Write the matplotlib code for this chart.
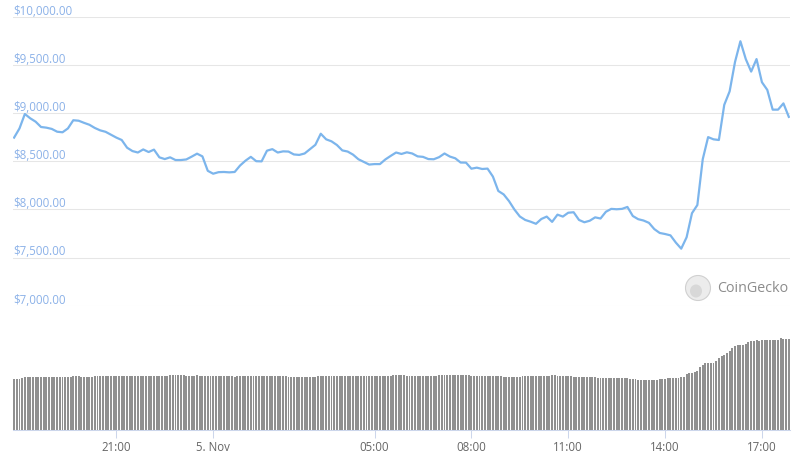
import matplotlib
matplotlib.use('Agg')
import matplotlib.pyplot as plt
from matplotlib.patches import Ellipse
from matplotlib.transforms import blended_transform_factory, offset_copy
import pandas as pd

plt.rcParams['font.family'] = ['Open Sans', 'DejaVu Sans']

# precio cada 10 minutos, desde 4 nov 17:50
price = [
    8745, 8840, 8990, 8945, 8910, 8855, 8848, 8835, 8806, 8800,
    8840, 8925, 8920, 8898, 8878, 8845, 8820, 8805, 8775, 8745,
    8720, 8640, 8605, 8590, 8622, 8595, 8620, 8540, 8522, 8540,
    8512, 8512, 8518, 8547, 8578, 8550, 8400, 8370, 8386, 8388,
    8384, 8388, 8455, 8505, 8545, 8500, 8498, 8609, 8625, 8590,
    8602, 8600, 8570, 8565, 8580, 8625, 8670, 8785, 8727, 8706,
    8668, 8612, 8600, 8568, 8520, 8492, 8465, 8470, 8470, 8518,
    8555, 8590, 8575, 8592, 8580, 8550, 8545, 8522, 8520, 8542,
    8580, 8548, 8530, 8486, 8485, 8422, 8433, 8419, 8423, 8340,
    8191, 8155, 8085, 7998, 7926, 7890, 7872, 7850, 7900, 7925,
    7870, 7945, 7925, 7965, 7970, 7890, 7866, 7882, 7917, 7905,
    7975, 8005, 8001, 8005, 8025, 7931, 7898, 7884, 7860, 7795,
    7755, 7744, 7730, 7655, 7592, 7710, 7960, 8045, 8520, 8750,
    8727, 8720, 9085, 9225, 9530, 9745, 9560, 9430, 9560, 9320,
    9240, 9035, 9035, 9100, 8960,
]

# volumen cada 5 minutos (unidades arbitrarias)
volume = [
    152, 152, 152, 155,
    159, 159, 159, 159, 159, 159, 159, 159, 159, 159, 159, 159, 159, 159, 159, 159, 159, 159,
    162, 162, 162,
    159, 159, 159, 159, 159,
    162, 162, 162, 162, 162, 162, 162, 162, 162, 162, 162, 162, 162, 162,
    162, 162, 162, 162, 162, 162, 162, 162, 162, 162, 162, 162, 162, 162,
    165, 165, 165, 165, 165, 165,
    162, 162, 162, 162, 165,
    162, 162, 162, 162, 162, 162, 162, 162, 162, 162, 162, 162, 162,
    159,
    162, 162, 162, 162, 162, 162, 162, 162, 162, 162,
    162, 162, 162, 162, 162, 162, 162, 162, 162,
    159, 159, 159, 159, 159, 159, 159, 159, 159, 159, 159,
    162, 162, 162, 162, 162, 162, 162, 162, 162, 162, 162, 162, 162, 162,
    162, 162, 162, 162, 162, 162, 162, 162, 162, 162, 162, 162, 162, 162,
    165, 165, 165, 165, 165,
    162, 162, 162, 162, 162, 162, 162, 162, 162, 162, 162, 162,
    165, 165, 165, 165, 165, 165, 165, 165, 165, 165, 165, 165,
    162, 162, 162, 162, 162, 162, 162, 162, 162, 162, 162, 162,
    159, 159, 159, 159, 159, 159, 159,
    162, 162, 162, 162, 162, 162, 162, 162, 162, 162, 162,
    165, 165,
    162, 162, 162, 162, 162, 162,
    159, 159, 159, 159, 159, 159, 159, 159, 159,
    156, 156, 156, 156, 156, 156, 156, 156, 156, 156, 156, 156,
    153, 153, 153,
    150, 150, 150, 150, 150, 150, 150, 150,
    153, 153, 153,
    156, 156, 156, 156, 156,
    159, 159,
    167, 170, 172, 175, 178, 188, 195, 200, 202, 202,
    202, 207, 215, 222, 225, 230, 238, 245, 252, 255,
    255, 255, 258, 263, 267, 267, 270, 267, 270, 270,
    270, 270, 270, 270, 270, 275, 272, 272, 272,
]

price_ticks = [7000, 7500, 8000, 8500, 9000, 9500, 10000]
time_ticks = ['2019-11-04 21:00', '2019-11-05 00:00', '2019-11-05 05:00',
              '2019-11-05 08:00', '2019-11-05 11:00', '2019-11-05 14:00',
              '2019-11-05 17:00']
time_labels = ['21:00', '5. Nov', '05:00', '08:00', '11:00', '14:00', '17:00']

price_times = pd.date_range('2019-11-04 17:50', periods=len(price), freq='10min')
volume_times = pd.date_range('2019-11-04 17:50', periods=len(volume), freq='5min')

line_color = '#7cb5ec'
grid_color = '#e6e6e6'
axis_color = '#ccd6eb'

fig = plt.figure(figsize=(8.07, 4.61), dpi=100)
left = 13.3 / 807
width = (790 - 13.3) / 807
ax = fig.add_axes([left, 0.3369, width, 0.6269])
axv = fig.add_axes([left, 31 / 461, width, 100 / 461])

xmin = price_times[0] - pd.Timedelta(minutes=1.5)
xmax = price_times[-1] + pd.Timedelta(minutes=2.2)

# linea de precio
ax.plot(price_times, price, color=line_color, lw=1.6, solid_joinstyle='round')
ax.set_xlim(xmin, xmax)
ax.set_ylim(7000, 10000)
ax.set_yticks(price_ticks)
ax.set_yticklabels([])
ax.tick_params(left=False, bottom=False, labelbottom=False)
ax.grid(axis='y', color=grid_color, lw=0.75)
ax.set_axisbelow(True)
for s in ax.spines.values():
    s.set_visible(False)

trans = offset_copy(blended_transform_factory(ax.transAxes, ax.transData),
                    fig=fig, x=0, y=1.5, units='points')
for v in price_ticks:
    ax.text(0, v, f'${v:,.2f}', transform=trans, ha='left', va='baseline',
            color='#8bb1e8', fontsize=8.3)

# barras de volumen
axv.bar(volume_times, volume, width=0.72 * 5 / 1440, color='#909090', align='center')
axv.set_xlim(xmin, xmax)
axv.set_ylim(0, 300)
axv.set_yticks([])
axv.set_xticks(pd.to_datetime(time_ticks))
axv.set_xticklabels(time_labels)
axv.tick_params(axis='x', colors=axis_color, length=6, width=0.75, labelcolor='#666666',
                labelsize=8.3, pad=2)
for name, s in axv.spines.items():
    s.set_visible(name == 'bottom')
axv.spines['bottom'].set_color(axis_color)
axv.spines['bottom'].set_linewidth(0.75)

# marca de agua
fig.add_artist(Ellipse((698 / 807, 1 - 288 / 461), 25 / 807, 25 / 461,
                       transform=fig.transFigure, facecolor='#ececec',
                       edgecolor='#d0d0d0', lw=0.8))
fig.add_artist(Ellipse((696 / 807, 1 - 291 / 461), 12 / 807, 13 / 461,
                       transform=fig.transFigure, facecolor='#d8d8d8',
                       edgecolor='none'))
fig.text(717 / 807, 1 - 288 / 461, 'CoinGecko', ha='left', va='center',
         color='#8c8c8c', fontsize=10.3)

fig.savefig('out.png', dpi=100)
